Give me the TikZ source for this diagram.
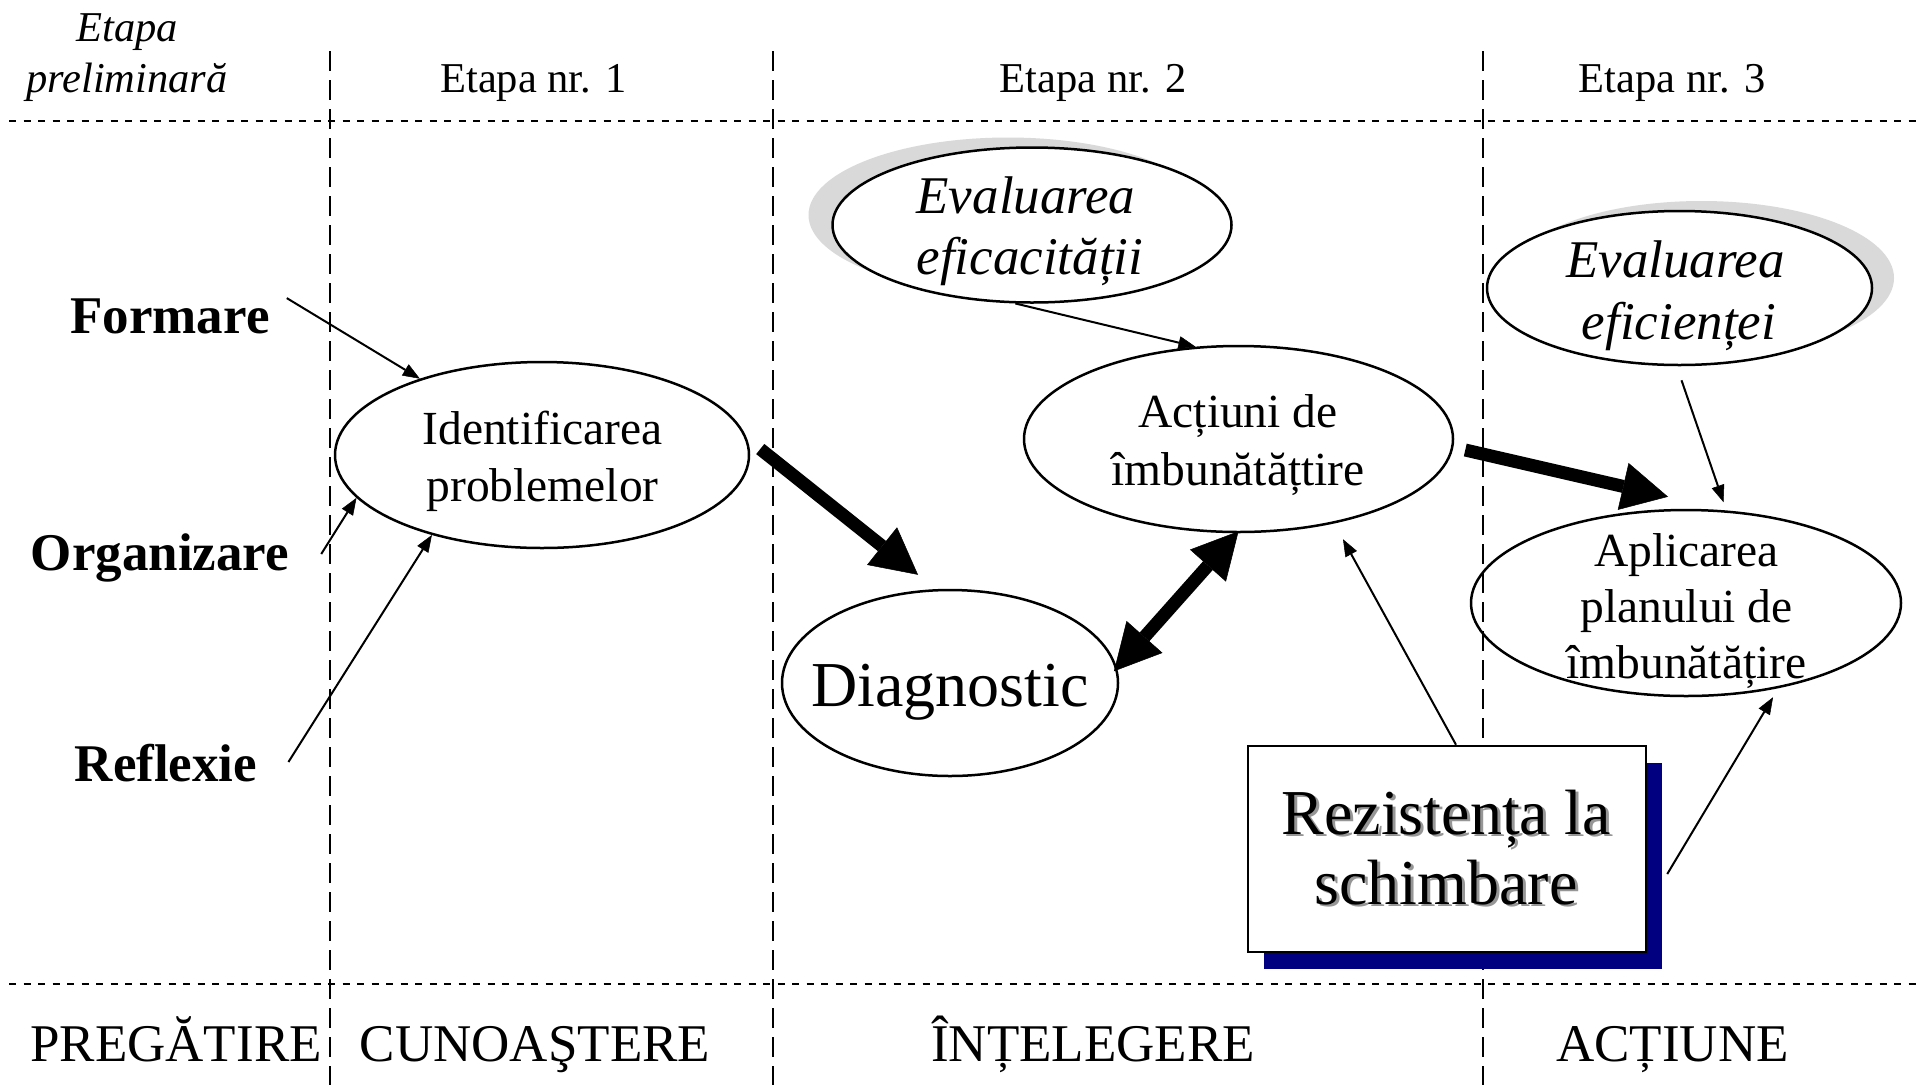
\documentclass[tikz,border=0pt]{standalone}
\usepackage{fontspec}
\setmainfont{Liberation Serif}
\usetikzlibrary{arrows.meta,shapes.geometric}
\definecolor{shadowgray}{RGB}{217,217,217}
\definecolor{boxnavy}{RGB}{0,0,128}
\definecolor{textshadow}{RGB}{150,150,150}
\newcommand\sizeS{\fontsize{42.5}{50}\selectfont}
\newcommand\sizeM{\fontsize{47.5}{56}\selectfont}
\newcommand\sizeL{\fontsize{53}{62}\selectfont}
\newcommand\sizeXL{\fontsize{64}{72}\selectfont}
\begin{document}
\begin{tikzpicture}[x=1pt,y=-1pt,
  vline/.style={line width=2.2pt, dash pattern=on 20pt off 9pt},
  hline/.style={line width=2pt, dash pattern=on 7pt off 7.5pt},
  oval/.style={ellipse, draw, line width=2.5pt, inner sep=0pt},
  ovalshadow/.style={ellipse, fill=shadowgray, inner sep=0pt},
  lbl/.style={anchor=base, inner sep=0pt},
  thinarrow/.style={line width=2pt, -{Triangle[length=17pt,width=13pt,line width=0.5pt]}},
  thickarrow/.style={line width=13pt, -{Triangle[length=46pt,width=48pt,line width=0.5pt]}},
  dblarrow/.style={line width=13pt, {Triangle[length=46pt,width=48pt,line width=0.5pt]}-{Triangle[length=46pt,width=48pt,line width=0.5pt]}},
]
\useasboundingbox (0,0) rectangle (1917,1085);
\fill[white] (0,0) rectangle (1917,1085);

% grid of dashed lines
\draw[vline] (330,51) -- (330,1085);
\draw[vline] (773,51) -- (773,1085);
\draw[vline] (1483,51) -- (1483,1085);
\draw[hline] (9,121) -- (1917,121);
\draw[hline] (9,984) -- (1917,984);

% header labels
\node[lbl, font=\itshape\sizeS] (prelimA) at (127,41) {Etapa};
\node[lbl, font=\itshape\sizeS] (prelimB) at (127,92) {preliminară};
\node[lbl, font=\sizeS] (et1) at (533.5,92) {Etapa nr. 1};
\node[lbl, font=\sizeS] (et2) at (1093,92) {Etapa nr. 2};
\node[lbl, font=\sizeS] (et3) at (1672,92) {Etapa nr. 3};

% footer labels
\node[lbl, font=\sizeL] (pregatire) at (176,1061) {PREGĂTIRE};
\node[lbl, font=\sizeL] (cunoastere) at (535,1061) {CUNOAŞTERE};
\node[lbl, font=\sizeL] (intelegere) at (1093,1061) {ÎNȚELEGERE};
\node[lbl, font=\sizeL] (actiune) at (1672.5,1061) {ACȚIUNE};

% left labels
\node[lbl, font=\bfseries\sizeL] (formare) at (170,333) {Formare};
\node[lbl, font=\bfseries\sizeL] (organizare) at (160,570) {Organizare};
\node[lbl, font=\bfseries\sizeL] (reflexie) at (166,781) {Reflexie};

% ellipses
\node[oval, minimum width=414pt, minimum height=186pt] (ident) at (542,455) {};
\node[lbl, font=\sizeM] (identA) at (542.5,444) {Identificarea};
\node[lbl, font=\sizeM] (identB) at (542.5,501) {problemelor};

\node[oval, minimum width=336pt, minimum height=186pt] (diag) at (950,683) {};
\node[lbl, font=\sizeXL] (diagT) at (950,706) {Diagnostic};

\node[ovalshadow, minimum width=399pt, minimum height=155pt] (evefS) at (1008,215) {};
\node[oval, fill=white, minimum width=399pt, minimum height=155pt] (evef) at (1032,225) {};
\node[lbl, font=\itshape\sizeL] (evefA) at (1026,213) {Evaluarea};
\node[lbl, font=\itshape\sizeL] (evefB) at (1030,274) {eficacității};

\node[oval, minimum width=429pt, minimum height=186pt] (actiuni) at (1238.5,439) {};
\node[lbl, font=\sizeM] (actiuniA) at (1238,427) {Acțiuni de};
\node[lbl, font=\sizeM] (actiuniB) at (1238,485.5) {îmbunătățtire};

\node[ovalshadow, minimum width=385pt, minimum height=154pt] (evefiS) at (1701.5,278) {};
\node[oval, fill=white, minimum width=385pt, minimum height=154pt] (evefi) at (1679.5,288) {};
\node[lbl, font=\itshape\sizeL] (evefiA) at (1675.5,277) {Evaluarea};
\node[lbl, font=\itshape\sizeL] (evefiB) at (1679,339) {eficienței};

\node[oval, minimum width=430pt, minimum height=186pt] (aplic) at (1686,603) {};
\node[lbl, font=\sizeM] (aplicA) at (1686.5,566) {Aplicarea};
\node[lbl, font=\sizeM] (aplicB) at (1686.5,622) {planului de};
\node[lbl, font=\sizeM] (aplicC) at (1686.5,678) {îmbunătățire};

% resistance box
\fill[boxnavy] (1264,763) rectangle (1662,968.5);
\node[draw, line width=2.5pt, fill=white, minimum width=398pt, minimum height=206pt, inner sep=0pt] (rez) at (1447,849) {};
\node[lbl, font=\sizeXL, text=textshadow] (rezAs) at (1449,836.5) {Rezistența la};
\node[lbl, font=\sizeXL, text=textshadow] (rezBs) at (1449,906.5) {schimbare};
\node[lbl, font=\sizeXL] (rezA) at (1446,834) {Rezistența la};
\node[lbl, font=\sizeXL] (rezB) at (1446,904) {schimbare};

% thin connectors
\draw[thinarrow] ([xshift=17pt]formare.north east) -- (ident.148);
\draw[thinarrow] ([xshift=32pt,yshift=16pt]organizare.base east) -- (ident.193);
\draw[thinarrow] ([xshift=31pt,yshift=19pt]reflexie.base east) -- (ident.216);
\draw[thinarrow] (evef.258) -- (actiuni.115);
\draw[thinarrow] ([xshift=2pt,yshift=-14pt]evefi.south) -- ([yshift=8pt]aplic.68);
\draw[thinarrow] ([xshift=9pt]rez.north) -- ([xshift=104.5pt,yshift=-6pt]actiuni.south);
\draw[thinarrow] ([xshift=20pt,yshift=-25pt]rez.east) -- ([xshift=87pt]aplic.south);

% thick connectors
\draw[thickarrow] ([xshift=10pt,yshift=6pt]ident.east) -- ([xshift=-32pt,yshift=14pt]diag.north);
\draw[thickarrow] ([xshift=11pt,yshift=-11pt]actiuni.east) -- ([xshift=-18pt,yshift=12pt]aplic.north);
\draw[dblarrow] ([xshift=-4pt]diag.4) -- ([yshift=2pt]actiuni.south);
\end{tikzpicture}
\end{document}
